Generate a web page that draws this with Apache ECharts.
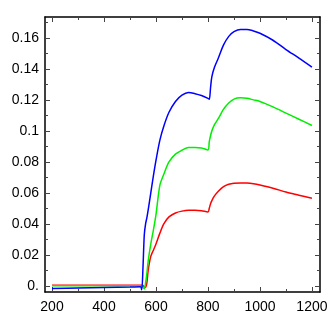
<!DOCTYPE html>
<html>
<head>
<meta charset="utf-8">
<script src="https://cdn.jsdelivr.net/npm/echarts@6/dist/echarts.min.js"></script>
<style>
  html, body { margin: 0; padding: 0; background: #fff; }
  #chart { width: 333px; height: 333px; }
</style>
</head>
<body>
<div id="chart"></div>
<script>
// wavelength samples (shared by all three curves)
const wavelengths = [200, 300, 400, 500, 540, 545, 550, 555, 560, 565, 570, 580, 590, 600, 615, 630, 650, 675, 700, 725, 750, 775, 800, 805, 810, 815, 825, 840, 860, 880, 900, 925, 950, 975, 1000, 1050, 1100, 1150, 1200]

const blueValues = [-0.0017, -0.0014, -0.0011, -0.0008, -0.0006, -0.0026, 0.012, 0.033, 0.04, 0.044, 0.049, 0.06, 0.071, 0.081, 0.094, 0.103, 0.112, 0.119, 0.123, 0.1247, 0.124, 0.1228, 0.121, 0.1204, 0.128, 0.135, 0.141, 0.147, 0.1555, 0.161, 0.164, 0.1655, 0.1655, 0.1645, 0.163, 0.1585, 0.1525, 0.147, 0.1412]

const greenValues = [0.0001, 0.0001, 0.0001, 0.0001, 0.0001, 0.0001, -0.001, -0.002, 0.002, 0.008, 0.016, 0.027, 0.036, 0.046, 0.065, 0.072, 0.08, 0.085, 0.0875, 0.0893, 0.0893, 0.089, 0.0877, 0.093, 0.097, 0.1, 0.104, 0.108, 0.114, 0.118, 0.1205, 0.1213, 0.121, 0.12, 0.119, 0.1155, 0.1115, 0.1075, 0.1035]

const redValues = [0.0003, 0.0003, 0.0003, 0.0003, 0.0003, 0.0003, 0.0002, -0.001, -0.001, 0.002, 0.01, 0.019, 0.023, 0.027, 0.034, 0.04, 0.0445, 0.047, 0.0482, 0.0487, 0.0487, 0.0485, 0.0477, 0.05, 0.053, 0.055, 0.058, 0.061, 0.064, 0.0655, 0.0662, 0.0664, 0.0663, 0.0658, 0.065, 0.063, 0.0605, 0.0585, 0.0565]

// tick positions
const xMajorTicks = [200, 400, 600, 800, 1000, 1200]
const xMinorTicks = [300, 500, 700, 900, 1100]
const yMajorTicks = [0, 0.02, 0.04, 0.06, 0.08, 0.1, 0.12, 0.14, 0.16]
const yMinorTicks = [0.01, 0.03, 0.05, 0.07, 0.09, 0.11, 0.13, 0.15, 0.17]
const yTickLabels = ['0.', '0.02', '0.04', '0.06', '0.08', '0.1', '0.12', '0.14', '0.16']

const chart = echarts.init(document.getElementById('chart'))

const toPairs = vals => wavelengths.map((w, i) => [w, vals[i]])

const rect = { left: 45, top: 17, right: 13, bottom: 41 }
const frameLine = { show: true, onZero: false, lineStyle: { color: '#000', width: 1.5 } }
const noLine = { show: false, onZero: false }
const font = { fontFamily: 'Liberation Sans', fontSize: 14, color: '#000' }
const tick = (values, len) => ({ show: true, inside: true, length: len, customValues: values, lineStyle: { color: '#444', width: 1 } })

const xRange = { type: 'value', min: 173, max: 1231, splitLine: { show: false } }
const yRange = { type: 'value', min: -0.004, max: 0.1735, splitLine: { show: false } }

const lineSeries = (vals, color) => ({
  type: 'line',
  data: toPairs(vals),
  showSymbol: false,
  smooth: 0.3,
  lineStyle: { color: color, width: 1.5 },
  itemStyle: { color: color },
  animation: false
})

chart.setOption({
  animation: false,
  // second grid sits exactly over the first, it only carries the minor ticks
  grid: [{ ...rect }, { ...rect }],
  xAxis: [
    {
      ...xRange, gridIndex: 0, position: 'bottom', axisLine: frameLine, axisTick: tick(xMajorTicks, 5),
      axisLabel: { ...font, margin: 8, customValues: xMajorTicks, formatter: v => String(Math.round(v)) }
    },
    { ...xRange, gridIndex: 0, position: 'top', axisLine: frameLine, axisTick: tick(xMajorTicks, 5), axisLabel: { show: false } },
    { ...xRange, gridIndex: 1, position: 'bottom', axisLine: noLine, axisTick: tick(xMinorTicks, 3), axisLabel: { show: false } },
    { ...xRange, gridIndex: 1, position: 'top', axisLine: noLine, axisTick: tick(xMinorTicks, 3), axisLabel: { show: false } }
  ],
  yAxis: [
    {
      ...yRange, gridIndex: 0, position: 'left', axisLine: frameLine, axisTick: tick(yMajorTicks, 5),
      axisLabel: { ...font, margin: 6, customValues: yMajorTicks, formatter: v => yTickLabels[Math.round(v / 0.02)] }
    },
    { ...yRange, gridIndex: 0, position: 'right', axisLine: frameLine, axisTick: tick(yMajorTicks, 5), axisLabel: { show: false } },
    { ...yRange, gridIndex: 1, position: 'left', axisLine: noLine, axisTick: tick(yMinorTicks, 3), axisLabel: { show: false } },
    { ...yRange, gridIndex: 1, position: 'right', axisLine: noLine, axisTick: tick(yMinorTicks, 3), axisLabel: { show: false } }
  ],
  series: [
    lineSeries(redValues, '#ff0000'),
    lineSeries(greenValues, '#00ee00'),
    lineSeries(blueValues, '#0000ff')
  ]
})
</script>
</body>
</html>
